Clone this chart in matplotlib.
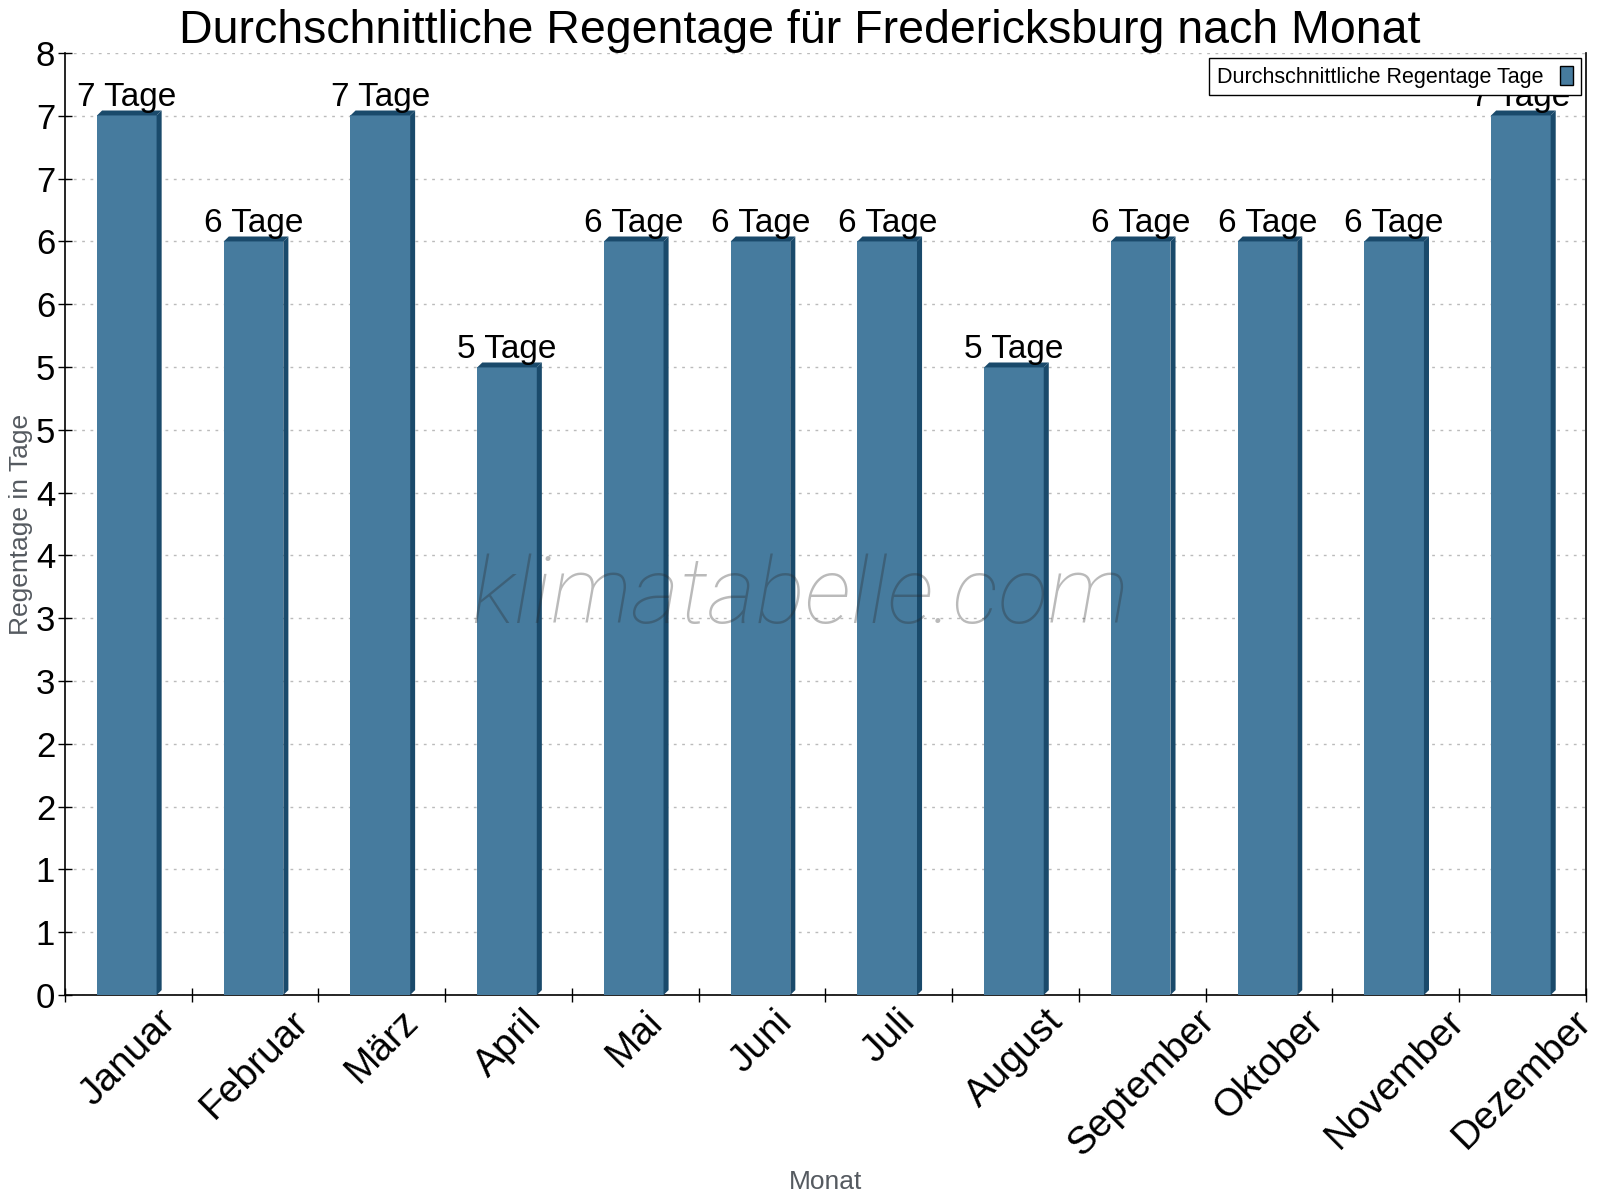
import matplotlib
matplotlib.use("Agg")
import matplotlib.pyplot as plt
from matplotlib.patches import Polygon, Patch
from matplotlib.ticker import FuncFormatter
import numpy as np

months = ["Januar", "Februar", "März", "April", "Mai", "Juni", "Juli",
          "August", "September", "Oktober", "November", "Dezember"]
rain_days = [7.47, 6.4, 7.47, 5.33, 6.4, 6.4, 6.4, 5.33, 6.4, 6.4, 6.4, 7.47]
bar_labels = [f"{round(v)} Tage" for v in rain_days]
y_ticks = np.linspace(0, 8, 16)

plt.rcParams['font.family'] = ['Liberation Sans', 'DejaVu Sans']

face = '#467b9e'
dark = '#1a4a6b'

fig = plt.figure(figsize=(16, 12), dpi=100)
ax = fig.add_axes([0.0406, 0.1708, 0.9505, 0.785])

x = np.arange(len(months))
width = 0.47
shift = -0.012
bars = ax.bar(x + shift, rain_days, width=width, color=face, zorder=3)

# pseudo-3D depth
dx, dy = 0.04, 0.042
for b in bars:
    x0 = b.get_x(); x1 = x0 + b.get_width(); h = b.get_height()
    side = Polygon([(x1, 0), (x1 + dx, dy), (x1 + dx, h + dy), (x1, h)],
                   closed=True, facecolor=dark, edgecolor='none', zorder=3)
    top = Polygon([(x0, h), (x0 + dx, h + dy), (x1 + dx, h + dy), (x1, h)],
                  closed=True, facecolor=dark, edgecolor='none', zorder=3)
    ax.add_patch(side); ax.add_patch(top)

for xi, v, lab in zip(x, rain_days, bar_labels):
    ax.annotate(lab, (xi + shift, v), xytext=(0, 7),
                textcoords='offset points', ha='center', va='baseline',
                fontsize=24, color='black', zorder=5)

ax.set_xlim(-0.5, len(months) - 0.5)
ax.set_ylim(0, 8)
ax.set_yticks(y_ticks)
ax.yaxis.set_major_formatter(FuncFormatter(lambda v, p: f"{v:.0f}"))
ax.set_xticks(np.arange(-0.5, len(months), 1.0))
ax.set_xticklabels([])
ax.set_xticks(x, minor=True)
ax.set_xticklabels(months, minor=True, rotation=45, ha='center', fontsize=28)
ax.tick_params(axis='x', which='minor', length=0, pad=6)
ax.tick_params(axis='x', which='major', direction='inout', length=10, width=1)
ax.tick_params(axis='y', direction='inout', length=10, width=1, labelsize=25, pad=2)

ax.grid(axis='y', linestyle=(0, (2, 4)), color='#bbbbbb', linewidth=1, zorder=0)
ax.set_axisbelow(True)
ax.spines['top'].set_visible(False)
for s in ['left', 'bottom', 'right']:
    ax.spines[s].set_linewidth(1.2)

ax.set_title("Durchschnittliche Regentage für Fredericksburg nach Monat",
             fontsize=33.5, pad=0, x=0.4833)
ax.set_ylabel("Regentage in Tage", fontsize=19, color='#555a60', labelpad=2)
ax.set_xlabel("Monat", fontsize=19, color='#555a60', labelpad=5)

leg = ax.legend(handles=[Patch(facecolor=face, edgecolor='black', linewidth=1)],
                labels=["Durchschnittliche Regentage Tage"], loc='upper right',
                markerfirst=False, fontsize=15.5, fancybox=False, framealpha=1,
                edgecolor='black', handlelength=0.6, handleheight=1.0,
                borderpad=0.35, borderaxespad=0,
                bbox_to_anchor=(0.9967, 0.9945))
leg.get_frame().set_linewidth(1)
leg.set_zorder(10)

fig.text(0.5, 0.502, "klimatabelle.com", fontsize=67, style='italic',
         fontweight='light', family=['Roboto', 'DejaVu Sans'],
         color='#2a2a2a', alpha=0.32, ha='center', va='center', zorder=20)

fig.savefig("out.png", dpi=100)
